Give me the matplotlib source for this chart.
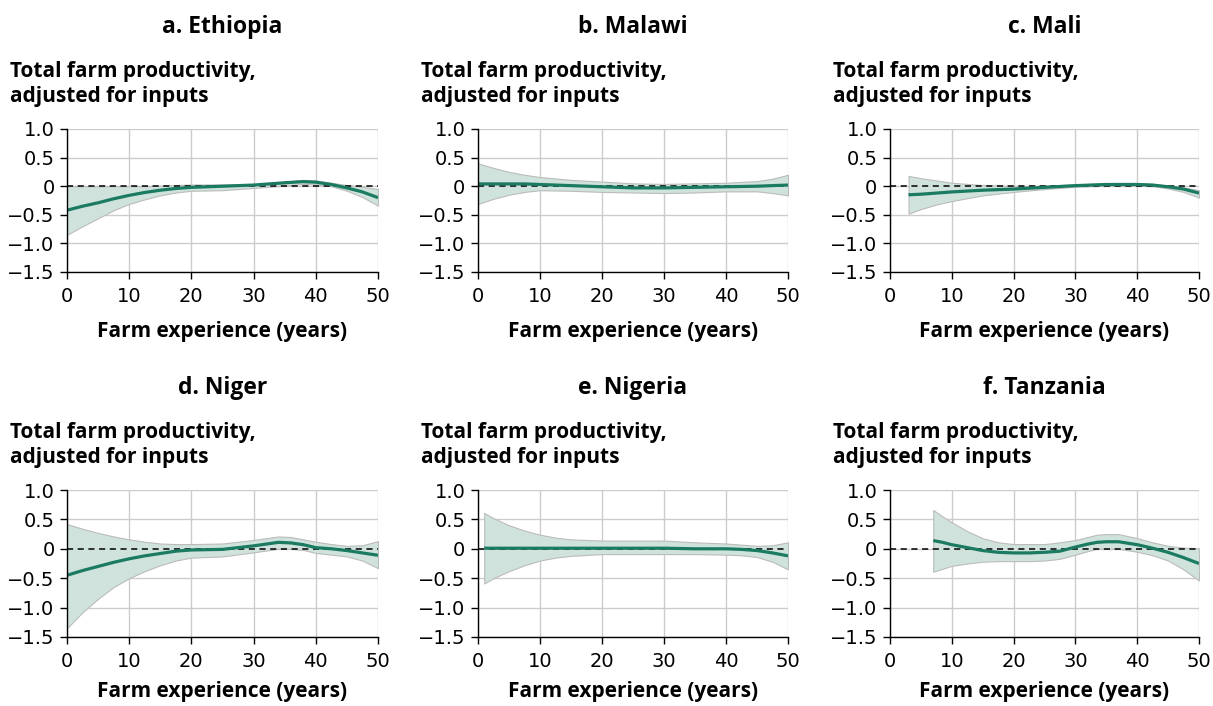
import matplotlib
matplotlib.use("Agg")
import matplotlib.pyplot as plt

plt.rcParams["font.family"] = ["Open Sans", "DejaVu Sans"]

# Partial residual curves: productivity vs. years of farm experience
titles = ["a. Ethiopia", "b. Malawi", "c. Mali", "d. Niger", "e. Nigeria", "f. Tanzania"]

eth_x = [0, 2.5, 5, 7.5, 10, 12.5, 15, 17.5, 20, 25, 30, 35, 38, 40, 42.5, 45, 47.5, 50]
eth_y = [-0.42, -0.35, -0.29, -0.22, -0.16, -0.11, -0.07, -0.04, -0.02, 0.0, 0.02, 0.06, 0.08, 0.07, 0.03, -0.03, -0.1, -0.2]
eth_hi = [0.0, 0.0, 0.0, 0.0, 0.0, 0.0, 0.01, 0.02, 0.03, 0.03, 0.03, 0.08, 0.11, 0.1, 0.06, 0.02, -0.01, -0.05]
eth_lo = [-0.85, -0.7, -0.56, -0.42, -0.31, -0.23, -0.16, -0.11, -0.08, -0.07, -0.03, 0.01, 0.04, 0.03, 0.0, -0.08, -0.19, -0.34]

mwi_x = [0, 2.5, 5, 7.5, 10, 15, 20, 25, 30, 35, 40, 45, 47.5, 50]
mwi_y = [0.04, 0.04, 0.04, 0.04, 0.03, 0.01, -0.01, -0.03, -0.03, -0.02, -0.01, 0.0, 0.01, 0.02]
mwi_hi = [0.4, 0.32, 0.25, 0.2, 0.16, 0.11, 0.08, 0.05, 0.04, 0.05, 0.06, 0.09, 0.13, 0.2]
mwi_lo = [-0.31, -0.22, -0.15, -0.1, -0.07, -0.08, -0.1, -0.11, -0.12, -0.11, -0.09, -0.09, -0.12, -0.16]

mli_x = [3, 5, 7.5, 10, 15, 20, 25, 30, 35, 40, 42.5, 45, 47.5, 50]
mli_y = [-0.15, -0.14, -0.12, -0.1, -0.07, -0.05, -0.02, 0.01, 0.03, 0.03, 0.02, -0.01, -0.05, -0.12]
mli_hi = [0.18, 0.14, 0.1, 0.06, 0.02, 0.0, 0.01, 0.03, 0.05, 0.05, 0.04, 0.01, -0.02, -0.07]
mli_lo = [-0.48, -0.4, -0.32, -0.26, -0.16, -0.1, -0.05, -0.01, 0.01, 0.01, 0.0, -0.04, -0.1, -0.2]

ner_x = [0, 2.5, 5, 7.5, 10, 12.5, 15, 17.5, 20, 25, 30, 32, 34, 36, 38, 40, 42.5, 45, 47.5, 50]
ner_y = [-0.45, -0.37, -0.3, -0.23, -0.17, -0.12, -0.08, -0.04, -0.02, -0.01, 0.05, 0.08, 0.11, 0.1, 0.07, 0.02, 0.0, -0.03, -0.07, -0.11]
ner_hi = [0.42, 0.34, 0.27, 0.21, 0.16, 0.12, 0.09, 0.08, 0.08, 0.09, 0.15, 0.18, 0.21, 0.2, 0.16, 0.12, 0.08, 0.05, 0.06, 0.13]
ner_lo = [-1.35, -1.08, -0.85, -0.65, -0.5, -0.38, -0.28, -0.2, -0.15, -0.13, -0.06, -0.03, 0.0, 0.0, -0.02, -0.07, -0.1, -0.13, -0.2, -0.33]

nga_x = [1, 2.5, 5, 7.5, 10, 12.5, 15, 20, 25, 30, 35, 40, 42.5, 45, 47.5, 50]
nga_y = [0.01, 0.01, 0.01, 0.01, 0.01, 0.01, 0.01, 0.01, 0.01, 0.01, 0.0, 0.0, -0.01, -0.03, -0.07, -0.12]
nga_hi = [0.61, 0.52, 0.4, 0.31, 0.24, 0.19, 0.16, 0.14, 0.14, 0.14, 0.11, 0.09, 0.07, 0.05, 0.06, 0.11]
nga_lo = [-0.59, -0.5, -0.38, -0.28, -0.2, -0.15, -0.12, -0.09, -0.09, -0.09, -0.09, -0.1, -0.11, -0.14, -0.22, -0.35]

tza_x = [7, 8.5, 10, 12.5, 15, 17.5, 20, 22.5, 25, 27.5, 30, 32, 33.5, 35, 37, 40, 42.5, 45, 47.5, 50]
tza_y = [0.14, 0.11, 0.07, 0.02, -0.03, -0.06, -0.07, -0.07, -0.06, -0.04, 0.03, 0.08, 0.11, 0.12, 0.12, 0.07, 0.01, -0.06, -0.15, -0.25]
tza_hi = [0.66, 0.55, 0.45, 0.3, 0.18, 0.11, 0.08, 0.08, 0.08, 0.11, 0.15, 0.2, 0.24, 0.25, 0.25, 0.18, 0.11, 0.05, 0.02, 0.01]
tza_lo = [-0.39, -0.34, -0.29, -0.25, -0.22, -0.21, -0.21, -0.21, -0.2, -0.17, -0.1, -0.04, 0.0, 0.0, 0.0, -0.05, -0.11, -0.2, -0.35, -0.54]

series = [
    (eth_x, eth_y, eth_lo, eth_hi),
    (mwi_x, mwi_y, mwi_lo, mwi_hi),
    (mli_x, mli_y, mli_lo, mli_hi),
    (ner_x, ner_y, ner_lo, ner_hi),
    (nga_x, nga_y, nga_lo, nga_hi),
    (tza_x, tza_y, tza_lo, tza_hi),
]

x_ticks = [0, 10, 20, 30, 40, 50]
y_ticks = [1.0, 0.5, 0, -0.5, -1.0, -1.5]
y_tick_labels = ["1.0", "0.5", "0", "\u22120.5", "\u22121.0", "\u22121.5"]

W, H = 1213, 706
fig = plt.figure(figsize=(W / 100, H / 100), dpi=100)

col_left = [67, 478, 890]
col_width = [311, 310, 309]
row_top = [129, 490]
row_bottom = [272, 637]
xlabel_y = [332, 692]

line_color = "#1b7a62"
band_color = "#cfe3dc"
tick_font = ["Liberation Sans Narrow", "DejaVu Sans"]

for i, (xs, ys, lo, hi) in enumerate(series):
    r, c = divmod(i, 3)
    left, width = col_left[c], col_width[c]
    top, bottom = row_top[r], row_bottom[r]
    ax = fig.add_axes([left / W, 1 - bottom / H, width / W, (bottom - top) / H])

    ax.set_xlim(0, 50)
    ax.set_ylim(-1.5, 1.0)
    ax.set_xticks(x_ticks)
    ax.set_yticks(y_ticks)
    ax.set_xticklabels([str(t) for t in x_ticks], fontsize=14, family=tick_font)
    ax.set_yticklabels(y_tick_labels, fontsize=14, family=tick_font)
    ax.grid(True, color="#cccccc", linewidth=1)
    ax.set_axisbelow(True)
    for s in ["top", "right"]:
        ax.spines[s].set_visible(False)
    for s in ["left", "bottom"]:
        ax.spines[s].set_color("black")
        ax.spines[s].set_linewidth(1)
        ax.spines[s].set_zorder(5)
    ax.tick_params(length=5, width=1, color="black")
    ax.tick_params(axis="y", pad=4)
    ax.tick_params(axis="x", pad=6)

    ax.fill_between(xs, lo, hi, facecolor=band_color, edgecolor="#bbbbbb", linewidth=0.8, zorder=2)
    ax.axhline(0, color="black", linestyle=(0, (4, 3)), linewidth=1.1, zorder=3)
    ax.plot(xs, ys, color=line_color, linewidth=2.3, zorder=4, solid_capstyle="butt")

    cx = (left + width / 2) / W
    fig.text(cx, 1 - (top - 102) / H, titles[i], ha="center", va="center",
             fontsize=16.5, fontweight="bold")
    fig.text(10 / W + (col_left[c] - 67) / W, 1 - (top - 45) / H,
             "Total farm productivity,\nadjusted for inputs", ha="left", va="center",
             fontsize=15, fontweight="bold", linespacing=1.25)
    fig.text(cx, 1 - xlabel_y[r] / H, "Farm experience (years)", ha="center",
             va="center", fontsize=15, fontweight="bold")

fig.savefig("out.png", dpi=100)
